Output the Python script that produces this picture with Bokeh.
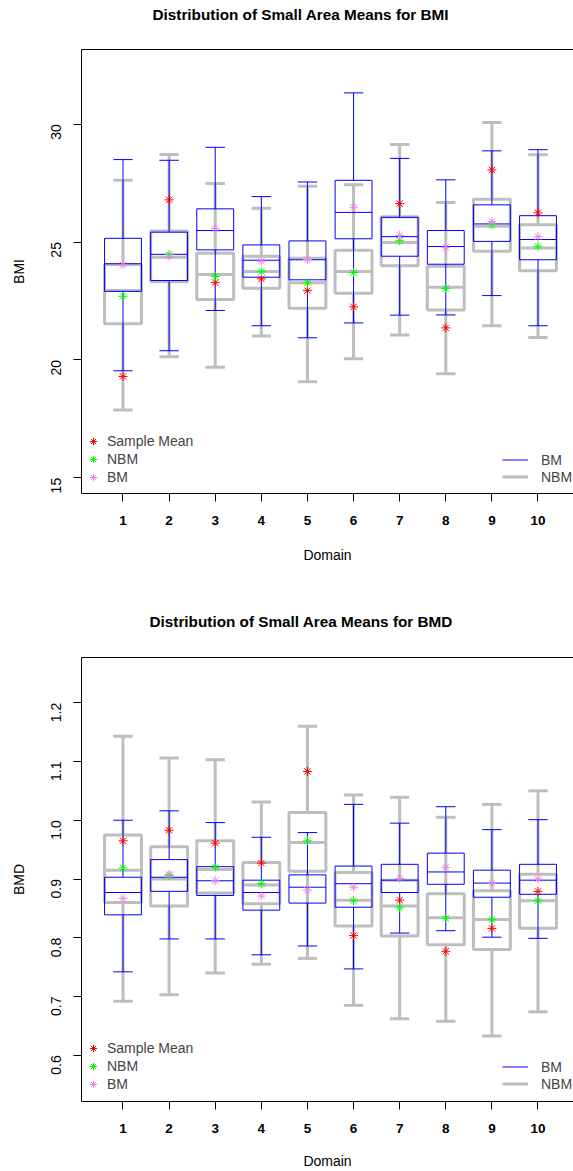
import math
import numpy as np
from bokeh.plotting import figure
from bokeh.models import (FixedTicker, LinearAxis, Legend, LegendItem, Range1d,
                          Title, PrintfTickFormatter)
from bokeh.layouts import column
from bokeh.embed import file_html
from bokeh.resources import INLINE

# ---------------- data ----------------
domains = [1, 2, 3, 4, 5, 6, 7, 8, 9, 10]

# BMI - NBM (grey boxes): lower whisker, Q1, median, Q3, upper whisker
bmi_nbm_low = [17.88, 20.14, 19.69, 21.02, 19.08, 20.05, 21.06, 19.41, 21.45, 20.95]
bmi_nbm_q1 = [21.54, 23.32, 22.56, 23.04, 22.19, 22.83, 24.00, 22.12, 24.61, 23.78]
bmi_nbm_med = [22.95, 24.36, 23.62, 23.75, 23.27, 23.75, 24.98, 23.08, 25.67, 24.75]
bmi_nbm_q3 = [24.05, 25.47, 24.53, 24.40, 24.31, 24.65, 26.07, 23.97, 26.82, 25.74]
bmi_nbm_high = [27.62, 28.72, 27.48, 26.43, 27.37, 27.43, 29.14, 26.68, 30.07, 28.71]
# BMI - BM (blue boxes)
bmi_bm_low = [19.54, 20.39, 22.10, 21.45, 20.94, 21.57, 21.90, 21.91, 22.73, 21.45]
bmi_bm_q1 = [22.91, 23.37, 24.67, 23.51, 23.40, 25.14, 24.40, 24.06, 25.03, 24.25]
bmi_bm_med = [24.08, 24.48, 25.49, 24.23, 24.25, 26.26, 25.23, 24.81, 25.77, 25.11]
bmi_bm_q3 = [25.16, 25.42, 26.41, 24.88, 25.05, 27.62, 26.05, 25.49, 26.58, 26.12]
bmi_bm_high = [28.50, 28.47, 29.02, 26.93, 27.55, 31.33, 28.55, 27.64, 28.87, 28.92]
# BMI point estimates
bmi_sample_mean = [19.30, 26.79, 23.28, 23.44, 22.94, 22.25, 26.63, 21.36, 28.06, 26.24]
bmi_nbm_est = [22.70, 24.48, 23.54, 23.75, 23.27, 23.71, 25.06, 23.03, 25.74, 24.82]
bmi_bm_est = [24.03, 24.40, 25.57, 24.19, 24.26, 26.48, 25.28, 24.78, 25.87, 25.23]
bmi_ticks = [15, 20, 25, 30]

# BMD - NBM (grey boxes)
bmd_nbm_low = [0.692, 0.703, 0.740, 0.755, 0.765, 0.685, 0.662, 0.658, 0.633, 0.674]
bmd_nbm_q1 = [0.860, 0.854, 0.876, 0.858, 0.913, 0.820, 0.803, 0.788, 0.780, 0.816]
bmd_nbm_med = [0.915, 0.900, 0.916, 0.890, 0.962, 0.864, 0.854, 0.834, 0.831, 0.863]
bmd_nbm_q3 = [0.975, 0.955, 0.965, 0.928, 1.013, 0.911, 0.898, 0.875, 0.880, 0.908]
bmd_nbm_high = [1.143, 1.106, 1.103, 1.031, 1.160, 1.043, 1.039, 1.005, 1.027, 1.050]
# BMD - BM (blue boxes)
bmd_bm_low = [0.742, 0.798, 0.798, 0.771, 0.786, 0.747, 0.808, 0.812, 0.801, 0.799]
bmd_bm_q1 = [0.839, 0.879, 0.872, 0.847, 0.859, 0.852, 0.877, 0.891, 0.869, 0.874]
bmd_bm_med = [0.877, 0.903, 0.897, 0.877, 0.886, 0.892, 0.898, 0.912, 0.893, 0.898]
bmd_bm_q3 = [0.903, 0.933, 0.921, 0.898, 0.907, 0.922, 0.925, 0.944, 0.915, 0.925]
bmd_bm_high = [1.000, 1.016, 0.996, 0.971, 0.979, 1.027, 0.995, 1.023, 0.984, 1.001]
# BMD point estimates
bmd_sample_mean = [0.965, 0.983, 0.961, 0.927, 1.083, 0.804, 0.864, 0.777, 0.816, 0.879]
bmd_nbm_est = [0.919, 0.906, 0.920, 0.892, 0.965, 0.863, 0.851, 0.833, 0.831, 0.863]
bmd_bm_est = [0.867, 0.908, 0.897, 0.871, 0.881, 0.886, 0.901, 0.920, 0.893, 0.900]
bmd_ticks = [0.6, 0.7, 0.8, 0.9, 1.0, 1.1, 1.2]

# ---------------- style ----------------
FONT = "Liberation Sans"
GREY = "#BEBEBE"
BLUE = "#0000FF"
BOX_W = 0.8
CAP_W = 0.42


def draw_box(p, lo, q1, med, q3, hi, color, lw):
    x = np.array(domains, dtype=float)
    p.vbar(x=domains, width=BOX_W, bottom=q1, top=q3, fill_color=None,
           line_color=color, line_width=lw)
    p.segment(x0=x - BOX_W / 2, x1=x + BOX_W / 2, y0=med, y1=med,
              line_color=color, line_width=lw)
    r = p.segment(x0=domains, x1=domains, y0=q3, y1=hi, line_color=color, line_width=lw)
    p.segment(x0=domains, x1=domains, y0=q1, y1=lo, line_color=color, line_width=lw)
    p.segment(x0=x - CAP_W / 2, x1=x + CAP_W / 2, y0=hi, y1=hi,
              line_color=color, line_width=lw)
    p.segment(x0=x - CAP_W / 2, x1=x + CAP_W / 2, y0=lo, y1=lo,
              line_color=color, line_width=lw)
    return r


def make_panel(title, ylab, yticks, yfmt, yr, height, mb_top, mb_bottom,
               title_off, spacer, nbm, bm, sm, ne, be, lab_standoff, leg_y, leg2_y):
    p = figure(width=573, height=height, output_backend="svg", toolbar_location=None,
               x_range=Range1d(0.1, 10.77), y_range=Range1d(*yr), title=None,
               min_border_left=81, min_border_right=0, min_border_top=mb_top,
               min_border_bottom=mb_bottom)
    p.outline_line_color = None
    p.xgrid.visible = False
    p.ygrid.visible = False
    p.background_fill_color = "white"
    p.border_fill_color = "white"

    bottom = p.below[0]
    left = p.left[0]

    # top border of the box via an empty axis
    top = LinearAxis(ticker=FixedTicker(ticks=[]), major_tick_out=0, major_tick_in=0,
                     major_tick_line_color=None, minor_tick_line_color=None,
                     major_label_text_font_size="0px", major_label_standoff=0,
                     axis_line_color="black")
    p.add_layout(top, "above")
    # empty spacer between box and title
    p.add_layout(Title(text=" ", text_font_size="1px", standoff=spacer), "above")
    p.add_layout(Title(text=title, align="left", offset=title_off, text_font=FONT,
                       text_font_size="15.3px", text_font_style="bold", standoff=0,
                       vertical_align="middle", text_color="black"), "above")

    nbm_r = draw_box(p, *nbm, GREY, 3)
    bm_r = draw_box(p, *bm, BLUE, 1)
    r_sm = p.scatter(domains, sm, marker="asterisk", size=9, line_color="#FF0000", line_width=1)
    r_ne = p.scatter(domains, ne, marker="asterisk", size=9, line_color="#00FF00", line_width=1)
    r_be = p.scatter(domains, be, marker="asterisk", size=9, line_color="#EE82EE", line_width=1)

    for ax in (bottom, left):
        ax.axis_line_color = "black"
        ax.major_tick_line_color = "black"
        ax.major_tick_out = 8
        ax.major_tick_in = 0
        ax.minor_tick_line_color = None
        ax.major_label_text_font = FONT
        ax.major_label_text_color = "black"
        ax.axis_label_text_font = FONT
        ax.axis_label_text_font_style = "normal"
        ax.axis_label_text_font_size = "14px"
        ax.axis_label_text_color = "black"

    bottom.ticker = FixedTicker(ticks=domains)
    bottom.major_label_text_font_size = "13.5px"
    bottom.major_label_text_font_style = "bold"
    bottom.major_label_standoff = 14
    bottom.axis_label = "Domain"
    bottom.axis_label_standoff = lab_standoff

    left.ticker = FixedTicker(ticks=yticks)
    left.formatter = PrintfTickFormatter(format=yfmt)
    left.major_label_text_font_size = "14px"
    left.major_label_orientation = math.pi / 2
    left.major_label_standoff = 17
    left.axis_label = ylab
    left.axis_label_standoff = 17

    leg1 = Legend(items=[LegendItem(label="Sample Mean", renderers=[r_sm]),
                         LegendItem(label="NBM", renderers=[r_ne]),
                         LegendItem(label="BM", renderers=[r_be])],
                  location=(2, leg_y), margin=0, padding=0, spacing=0,
                  glyph_width=20, glyph_height=18, label_height=18, label_standoff=4,
                  label_text_font=FONT, label_text_font_size="14px",
                  label_text_baseline="middle",
                  background_fill_alpha=0, border_line_color=None)
    leg2 = Legend(items=[LegendItem(label="BM", renderers=[bm_r]),
                         LegendItem(label="NBM", renderers=[nbm_r])],
                  location=(421, leg2_y), margin=0, padding=0, spacing=0,
                  glyph_width=26, glyph_height=17, label_height=17, label_standoff=13,
                  label_text_font=FONT, label_text_font_size="14px",
                  label_text_baseline="middle",
                  background_fill_alpha=0, border_line_color=None)
    p.add_layout(leg1)
    p.add_layout(leg2)
    return p


p1 = make_panel("Distribution of Small Area Means for BMI", "BMI", bmi_ticks, "%d",
                (14.334, 33.17), 590, 49, 97, 71, 23,
                (bmi_nbm_low, bmi_nbm_q1, bmi_nbm_med, bmi_nbm_q3, bmi_nbm_high),
                (bmi_bm_low, bmi_bm_q1, bmi_bm_med, bmi_bm_q3, bmi_bm_high),
                bmi_sample_mean, bmi_nbm_est, bmi_bm_est, 19, 7, 8)
p2 = make_panel("Distribution of Small Area Means for BMD", "BMD", bmd_ticks, "%.1f",
                (0.5214, 1.2769), 581, 67, 69, 68, 24,
                (bmd_nbm_low, bmd_nbm_q1, bmd_nbm_med, bmd_nbm_q3, bmd_nbm_high),
                (bmd_bm_low, bmd_bm_q1, bmd_bm_med, bmd_bm_q3, bmd_bm_high),
                bmd_sample_mean, bmd_nbm_est, bmd_bm_est, 17, 8, 9)

layout = column(p1, p2, spacing=0)
open("out.html", "w").write(file_html(layout, INLINE))
